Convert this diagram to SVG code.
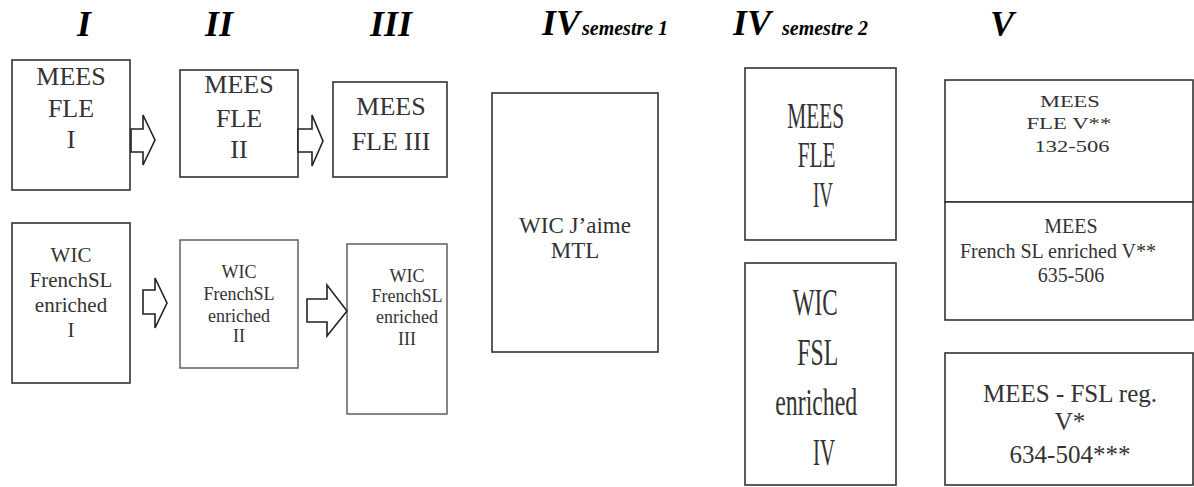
<svg xmlns="http://www.w3.org/2000/svg" width="1194" height="487" viewBox="0 0 1194 487">
<style>
.box{fill:#fff;stroke:#333;stroke-width:1.6}
.lt{stroke:#6a6a6a}
.t{font-family:"Liberation Serif","Times New Roman",serif;fill:#333;text-anchor:middle}
.h{font-family:"Liberation Serif","Times New Roman",serif;font-weight:bold;font-style:italic;fill:#000}
.arr{fill:#fff;stroke:#222;stroke-width:1.6;stroke-linejoin:miter}
</style>
<rect width="1194" height="487" fill="#fff"/>
<g id="headers">
<text class="h" x="77" y="36" font-size="36">I</text>
<text class="h" x="205" y="36" font-size="36">II</text>
<text class="h" x="370" y="36" font-size="36">III</text>
<text class="h" x="542" y="35" font-size="36">IV</text>
<text class="h" x="582" y="35" font-size="20">semestre 1</text>
<text class="h" x="733" y="35" font-size="36">IV</text>
<text class="h" x="782" y="35" font-size="20">semestre 2</text>
<text class="h" x="990" y="36" font-size="36">V</text>
</g>
<g id="mees-fle-1">
<rect class="box" x="12" y="60" width="118" height="130"/>
<text class="t" font-size="26"><tspan x="71" y="85">MEES</tspan><tspan x="71" y="117">FLE</tspan><tspan x="71" y="148">I</tspan></text>
</g>
<g id="mees-fle-2">
<rect class="box" x="180" y="70" width="118" height="107"/>
<text class="t" font-size="26"><tspan x="239" y="93">MEES</tspan><tspan x="239" y="127">FLE</tspan><tspan x="239" y="158">II</tspan></text>
</g>
<g id="mees-fle-3">
<rect class="box" x="333" y="82" width="114" height="95"/>
<text class="t" font-size="26"><tspan x="391" y="115">MEES</tspan><tspan x="391" y="150">FLE III</tspan></text>
</g>
<g id="wic-1">
<rect class="box" x="12" y="223" width="118" height="160"/>
<text class="t" font-size="21"><tspan x="71" y="262">WIC</tspan><tspan x="71" y="287">FrenchSL</tspan><tspan x="71" y="312">enriched</tspan><tspan x="71" y="337">I</tspan></text>
</g>
<g id="wic-2">
<rect class="box lt" x="180" y="240" width="118" height="128"/>
<text class="t" font-size="18"><tspan x="239" y="278">WIC</tspan><tspan x="239" y="300">FrenchSL</tspan><tspan x="239" y="322">enriched</tspan><tspan x="239" y="342">II</tspan></text>
</g>
<g id="wic-3">
<rect class="box lt" x="347" y="244" width="100" height="170"/>
<text class="t" font-size="18"><tspan x="407" y="282">WIC</tspan><tspan x="407" y="302">FrenchSL</tspan><tspan x="407" y="323">enriched</tspan><tspan x="407" y="345">III</tspan></text>
</g>
<g id="wic-jaime">
<rect class="box" x="492" y="93" width="166" height="259"/>
<text class="t" font-size="23"><tspan x="575" y="233">WIC J’aime</tspan><tspan x="575" y="258">MTL</tspan></text>
</g>
<g id="mees-fle-4">
<rect class="box" x="745" y="68" width="151" height="172" stroke-width="2.6" stroke="#222"/>
<text class="t" font-size="35">
<tspan x="820" y="128" textLength="57" lengthAdjust="spacingAndGlyphs">MEES</tspan>
<tspan x="821" y="167" textLength="38" lengthAdjust="spacingAndGlyphs">FLE</tspan>
<tspan x="823" y="207" textLength="20" lengthAdjust="spacingAndGlyphs">IV</tspan>
</text>
</g>
<g id="wic-fsl-4">
<rect class="box" x="745" y="263" width="151" height="222" stroke-width="2.2" stroke="#2a2a2a"/>
<text class="t" font-size="38">
<tspan x="820" y="315" textLength="45" lengthAdjust="spacingAndGlyphs">WIC</tspan>
<tspan x="822" y="365" textLength="40" lengthAdjust="spacingAndGlyphs">FSL</tspan>
<tspan x="821" y="415" textLength="82" lengthAdjust="spacingAndGlyphs">enriched</tspan>
<tspan x="824" y="465" textLength="22" lengthAdjust="spacingAndGlyphs">IV</tspan>
</text>
</g>
<g id="mees-fle-5">
<rect class="box" x="945" y="80" width="248" height="122" stroke="#555"/>
<text class="t" font-size="17">
<tspan x="1072" y="107" textLength="60" lengthAdjust="spacingAndGlyphs">MEES</tspan>
<tspan x="1071" y="129" textLength="85" lengthAdjust="spacingAndGlyphs">FLE V**</tspan>
<tspan x="1072" y="152" textLength="75" lengthAdjust="spacingAndGlyphs">132-506</tspan>
</text>
</g>
<g id="mees-fsl-enriched-5">
<rect class="box" x="945" y="202" width="248" height="118" stroke="#333"/>
<text class="t" font-size="20"><tspan x="1071" y="233">MEES</tspan><tspan x="1058" y="258">French SL enriched V**</tspan><tspan x="1071" y="282">635-506</tspan></text>
</g>
<g id="mees-fsl-reg-5">
<rect class="box" x="945" y="353" width="248" height="132" stroke="#333"/>
<text class="t" font-size="25"><tspan x="1070" y="402">MEES - FSL reg.</tspan><tspan x="1070" y="430">V*</tspan><tspan x="1070" y="463">634-504***</tspan></text>
</g>
<g id="connectors">
<path class="arr" d="M131,129 H143 V115 L155,140 L143,165 V152 H131 Z"/>
<path class="arr" d="M298,129 H312 V115 L323,141 L312,166 V152 H298 Z"/>
<path class="arr" d="M143,290 H155 V278 L167,303 L155,328 V314 H143 Z"/>
<path class="arr" d="M307,299 H327 V285 L347,311 L327,336 V322 H307 Z" stroke-width="2.6" stroke="#111"/>
</g>
</svg>
